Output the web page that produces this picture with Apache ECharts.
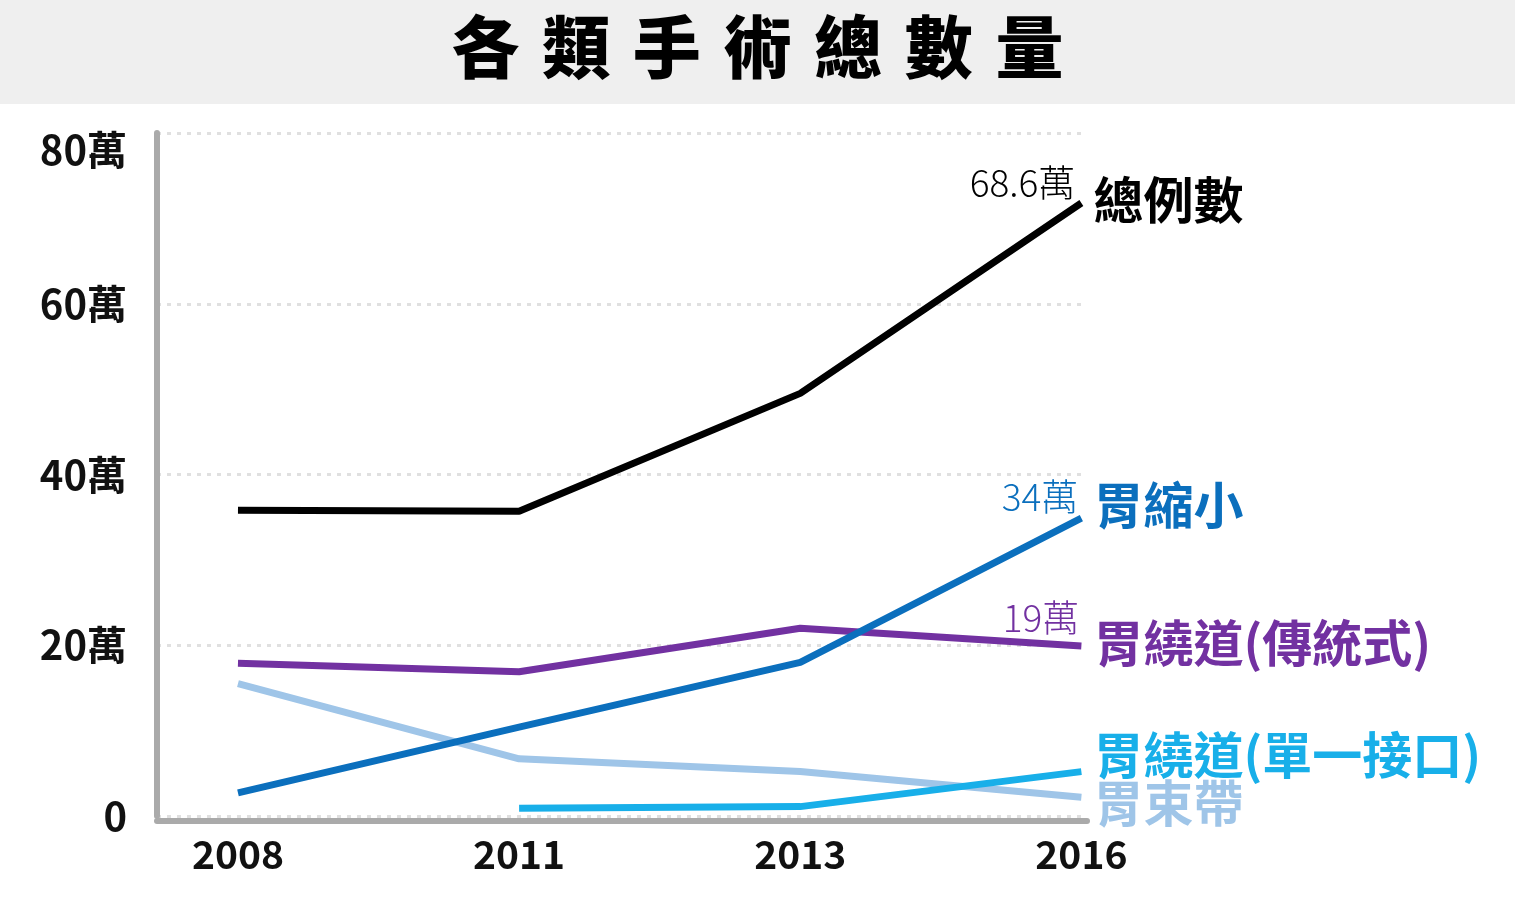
<!DOCTYPE html>
<html>
<head>
<meta charset="utf-8">
<script src="https://cdn.jsdelivr.net/npm/echarts@6/dist/echarts.min.js"></script>
<style>
  html, body { margin: 0; padding: 0; background: #fff; }
  #surgery-line { width: 1515px; height: 900px; }
</style>
</head>
<body>
<div id="surgery-line"></div>
<script>
// 年份 / 各術式例數（單位：萬）
var years = ['2008', '2011', '2013', '2016'];
var totalCases = [35.8, 35.7, 49.5, 71.8];
var sleeveCases = [2.7, 10.4, 18.0, 34.9];
var bypassClassic = [17.9, 16.9, 22.0, 19.9];
var bypassSingle = [null, 0.9, 1.1, 5.2];
var bandCases = [15.5, 6.7, 5.2, 2.2];
var yTicks = [0, 20, 40, 60, 80];

var font = '"Noto Sans CJK TC", "Noto Sans", sans-serif';

// 折線資料：x 用年份的索引
function toPoints(arr, endText, endColor, endPos) {
  return arr.map(function (v, i) {
    if (v === null) return [i, null];
    if (i === arr.length - 1 && endText) {
      return {
        value: [i, v],
        label: {
          show: true,
          formatter: endText,
          position: endPos,
          align: 'right',
          verticalAlign: 'middle',
          color: endColor,
          fontSize: 37,
          fontWeight: 300,
          fontFamily: font
        }
      };
    }
    return [i, v];
  });
}

function makeLine(name, arr, color, endDy, valueText, valuePos) {
  return {
    name: name,
    type: 'line',
    data: toPoints(arr, valueText, color, valuePos),
    symbol: 'circle',
    symbolSize: 0.1,
    showSymbol: true,
    itemStyle: { color: color },
    lineStyle: { color: color, width: 7, cap: 'butt' },
    label: { show: false },
    endLabel: {
      show: true,
      formatter: name,
      color: color,
      fontSize: 50,
      fontWeight: 'bold',
      fontFamily: font,
      distance: 12,
      offset: [0, endDy]
    },
    emphasis: { disabled: true },
    animation: false
  };
}

var myChart = echarts.init(document.getElementById('surgery-line'));

var option = {
  backgroundColor: '#fff',
  graphic: [{
    type: 'rect',
    left: 0,
    top: 0,
    shape: { width: 1515, height: 104 },
    style: { fill: '#efefef' },
    z: -10
  }],
  title: {
    text: '各\u2004類\u2004手\u2004術\u2004總\u2004數\u2004量',
    left: 'center',
    top: 8,
    textStyle: {
      fontSize: 68,
      fontWeight: 900,
      color: '#000',
      fontFamily: font
    }
  },
  grid: {
    left: 157,
    top: 133,
    width: 930,
    bottom: 84,
    containLabel: false
  },
  xAxis: {
    type: 'value',
    min: -0.288,
    max: 3.02,
    offset: 5,
    axisLine: { show: true, onZero: false, lineStyle: { color: '#aaa', width: 6 } },
    axisTick: { show: false },
    splitLine: { show: false },
    axisLabel: {
      customValues: [0, 1, 2, 3],
      formatter: function (v) { return years[Math.round(v)]; },
      color: '#111',
      fontSize: 39,
      fontWeight: 'bold',
      fontFamily: font,
      margin: 14
    }
  },
  yAxis: {
    type: 'value',
    min: 0,
    max: 80,
    interval: 20,
    axisLine: { show: true, onZero: false, lineStyle: { color: '#aaa', width: 6 } },
    axisTick: { show: false },
    splitLine: { show: true, lineStyle: { color: '#e0e0e0', width: 3, type: [4, 6] } },
    axisLabel: {
      formatter: function (v) {
        if (v === 0) return '0';
        if (v === yTicks[yTicks.length - 1]) return '{low|' + v + '萬}';
        return v + '萬';
      },
      rich: {
        low: {
          padding: [34, 0, 0, 0],
          color: '#111',
          fontSize: 40,
          fontWeight: 'bold',
          fontFamily: font
        }
      },
      color: '#111',
      fontSize: 40,
      fontWeight: 'bold',
      fontFamily: font,
      margin: 30
    }
  },
  series: [
    makeLine('胃束帶', bandCases, '#9fc5e8', 6),
    makeLine('胃繞道(傳統式)', bypassClassic, '#7231a1', -3, '19萬', [-2, -28]),
    makeLine('胃繞道(單一接口)', bypassSingle, '#18afe9', -17),
    makeLine('胃縮小', sleeveCases, '#0b6fbd', -13, '34萬', [-3, -21]),
    makeLine('總例數', totalCases, '#000', -3, '68.6萬', [-6, -20])
  ]
};

myChart.setOption(option);
</script>
</body>
</html>
